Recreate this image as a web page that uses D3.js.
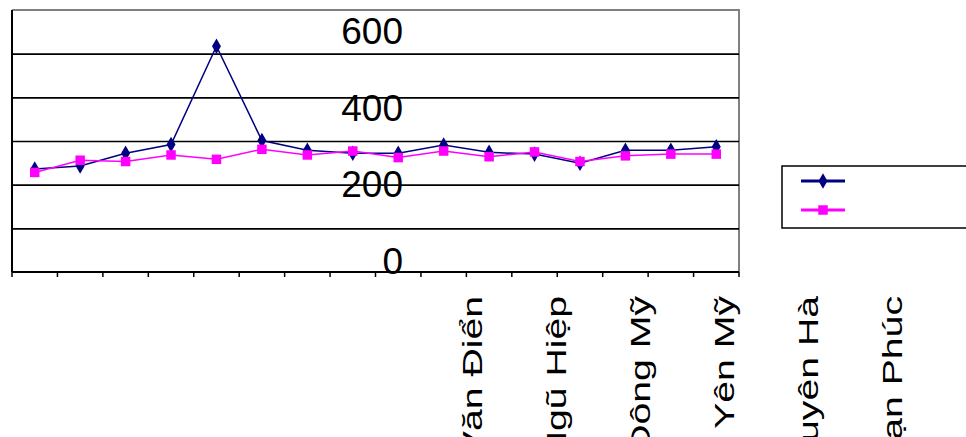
<!DOCTYPE html>
<html>
<head>
<meta charset="utf-8">
<script src="https://cdn.jsdelivr.net/npm/d3@7"></script>
<style>
  html, body { margin: 0; padding: 0; background: #fff; }
  svg { display: block; font-family: "Liberation Sans", Arial, sans-serif; }
</style>
</head>
<body>
<svg id="chart" width="966" height="437"></svg>
<script>
// ---- data ----
const categories = ["1","2","3","4","5","6","7","8","9","10","11","12","13","14","15","16"];
const seriesNames = ["Series 1", "Series 2"];
const series1 = [236, 243, 272, 292, 517, 301, 279, 272, 272, 291, 274, 270, 249, 279, 279, 287];
const series2 = [228, 256, 253, 268, 258, 281, 268, 277, 262, 277, 264, 275, 253, 266, 270, 270];
const yTickLabels = [0, 200, 400, 600];
const gridValues = [100, 200, 300, 400, 500];
const categoryLabels = ["Văn Điển", "Ngũ Hiệp", "Đông Mỹ", "Yên Mỹ", "Duyên Hà", "Vạn Phúc"];
const colors = ["#000080", "#FF00FF"];

// ---- layout ----
const svg = d3.select("#chart");
const plot = { left: 12, right: 739, top: 10, bottom: 272 };

const x = d3.scaleBand().domain(categories).range([plot.left, plot.right]).padding(0);
const y = d3.scaleLinear().domain([0, 600]).range([plot.bottom, plot.top]);
const xc = d => x(d) + x.bandwidth() / 2;

// plot frame (top & right gray)
svg.append("path")
  .attr("d", `M${plot.left},${plot.top}H${plot.right}V${plot.bottom}`)
  .attr("fill", "none").attr("stroke", "#808080").attr("stroke-width", 2);

// gridlines
svg.append("g")
  .attr("transform", `translate(${plot.left},0)`)
  .call(d3.axisLeft(y).tickValues(gridValues).tickSize(-(plot.right - plot.left)).tickFormat(""))
  .call(g => g.select(".domain").remove())
  .call(g => g.selectAll("line").attr("stroke", "#000").attr("stroke-width", 1.6));

// left axis line
svg.append("line")
  .attr("x1", plot.left).attr("x2", plot.left)
  .attr("y1", plot.top).attr("y2", plot.bottom)
  .attr("stroke", "#000").attr("stroke-width", 2);

// bottom axis with ticks at category boundaries
const edges = categories.map(c => x(c)).concat([plot.right]);
svg.append("line")
  .attr("x1", plot.left).attr("x2", plot.right)
  .attr("y1", plot.bottom).attr("y2", plot.bottom)
  .attr("stroke", "#000").attr("stroke-width", 2);
svg.append("g").selectAll("line").data(edges).join("line")
  .attr("x1", d => d).attr("x2", d => d)
  .attr("y1", plot.bottom).attr("y2", plot.bottom + 5)
  .attr("stroke", "#000").attr("stroke-width", 1.5);

// y labels (misplaced, as in reference)
const yLab = d3.scaleLinear().domain([0, 600]).range([274, 44]);
svg.append("g").selectAll("text").data(yTickLabels).join("text")
  .attr("x", 403).attr("y", d => yLab(d))
  .attr("text-anchor", "end")
  .attr("font-size", 37)
  .attr("fill", "#000")
  .text(d => d);

// category labels (rotated, stretched along text direction)
const xLab = d3.scalePoint().domain(categoryLabels).range([482, 902]);
svg.append("g").selectAll("text").data(categoryLabels).join("text")
  .attr("transform", d => `translate(${xLab(d)},296) rotate(-90) scale(1.4,1)`)
  .attr("text-anchor", "end")
  .attr("font-size", 28)
  .attr("fill", "#000")
  .text(d => d);

// lines
const line = d3.line().x((d, i) => xc(categories[i])).y(d => y(d));
const allSeries = [series1, series2];
allSeries.forEach((s, k) => {
  svg.append("path").datum(s)
    .attr("d", line)
    .attr("fill", "none")
    .attr("stroke", colors[k])
    .attr("stroke-width", 1.5);
});

// markers
const diamond = d3.symbol().type(d3.symbolDiamond).size(70);
const square = d3.symbol().type(d3.symbolSquare).size(90);
svg.append("g").selectAll("path").data(series1).join("path")
  .attr("transform", (d, i) => `translate(${xc(categories[i])},${y(d)})`)
  .attr("d", diamond).attr("fill", colors[0]);
svg.append("g").selectAll("path").data(series2).join("path")
  .attr("transform", (d, i) => `translate(${xc(categories[i])},${y(d)})`)
  .attr("d", square).attr("fill", colors[1]);

// legend
const lg = svg.append("g");
lg.append("rect")
  .attr("x", 782).attr("y", 166).attr("width", 200).attr("height", 62)
  .attr("fill", "#fff").attr("stroke", "#000").attr("stroke-width", 1.5);
const legY = d3.scalePoint().domain(seriesNames).range([181, 210]);
seriesNames.forEach((n, k) => {
  const yy = legY(n);
  lg.append("line").attr("x1", 801).attr("x2", 845).attr("y1", yy).attr("y2", yy)
    .attr("stroke", colors[k]).attr("stroke-width", 3);
  lg.append("path").attr("transform", `translate(823,${yy})`)
    .attr("d", k === 0 ? diamond : square).attr("fill", colors[k]);
});
</script>
</body>
</html>
